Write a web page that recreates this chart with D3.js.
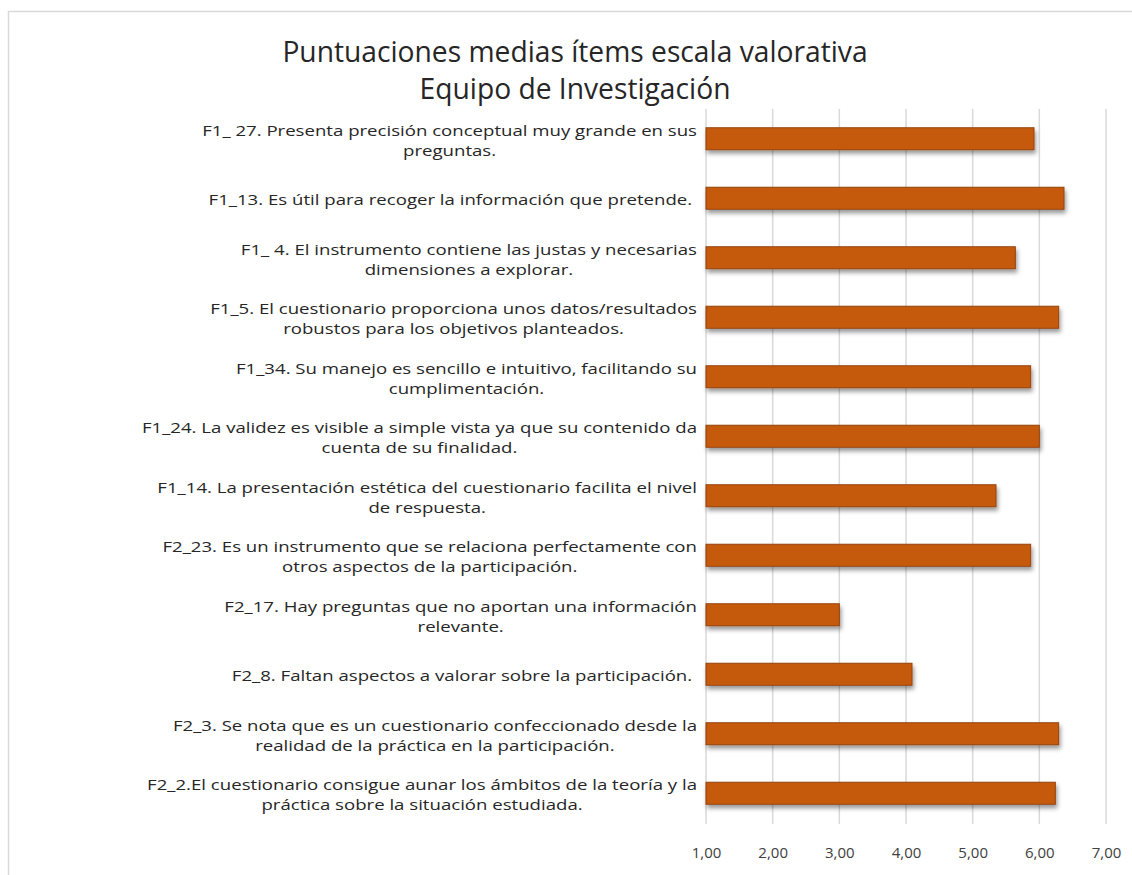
<!DOCTYPE html>
<html lang="es">
<head>
    <meta charset="utf-8" />
    <title>Puntuaciones medias ítems escala valorativa</title>
    <script src="https://d3js.org/d3.v7.min.js"></script>
    <style>
        body { margin: 0; background: #fff; }
        text { font-family: "Open Sans", "Liberation Sans", sans-serif; fill: #262626; }
        .grid line { stroke: #d9d9d9; stroke-width: 1.5px; }
        .xaxis text { fill: #404040; }
    </style>
</head>
<body>
<script>
    // ===== datos =====
    var titleLines = ["Puntuaciones medias ítems escala valorativa", "Equipo de Investigación"];

    // etiquetas de categoría, ya partidas en líneas como en el original
    var itemLabels = [
        ["F1_ 27. Presenta precisión conceptual muy grande en sus", "preguntas."],
        ["F1_13. Es útil para recoger la información que pretende. "],
        ["F1_ 4. El instrumento contiene las justas y necesarias", "dimensiones a explorar."],
        ["F1_5. El cuestionario proporciona unos datos/resultados", "robustos para los objetivos planteados."],
        ["F1_34. Su manejo es sencillo e intuitivo, facilitando su", "cumplimentación."],
        ["F1_24. La validez es visible a simple vista ya que su contenido da", "cuenta de su finalidad."],
        ["F1_14. La presentación estética del cuestionario facilita el nivel", "de respuesta."],
        ["F2_23. Es un instrumento que se relaciona perfectamente con", "otros aspectos de la participación."],
        ["F2_17. Hay preguntas que no aportan una información", "relevante."],
        ["F2_8. Faltan aspectos a valorar sobre la participación. "],
        ["F2_3. Se nota que es un cuestionario confeccionado desde la", "realidad de la práctica en la participación."],
        ["F2_2.El cuestionario consigue aunar los ámbitos de la teoría y la", "práctica sobre la situación estudiada."]
    ];
    var itemValues = [5.92, 6.37, 5.64, 6.29, 5.87, 6.00, 5.35, 5.87, 3.00, 4.09, 6.29, 6.24];
    var xTicks = [1, 2, 3, 4, 5, 6, 7];

    // ===== lienzo =====
    var width = 1132, height = 875;
    var margin = { top: 109, right: 26, bottom: 52, left: 706 };

    var svg = d3.select("body").append("svg")
        .attr("width", width)
        .attr("height", height);

    // sombra de las barras
    var defs = svg.append("defs");
    defs.append("filter")
        .attr("id", "sombra")
        .attr("x", "-5%").attr("y", "-30%")
        .attr("width", "115%").attr("height", "190%")
        .append("feDropShadow")
        .attr("dx", 1.5).attr("dy", 3.5)
        .attr("stdDeviation", 2)
        .attr("flood-color", "#000")
        .attr("flood-opacity", 0.4);

    // borde del gráfico
    svg.append("rect")
        .attr("x", 8.5).attr("y", 11.5)
        .attr("width", width + 20).attr("height", height + 20)
        .attr("fill", "none")
        .attr("stroke", "#d9d9d9")
        .attr("stroke-width", 1.5);

    var x = d3.scaleLinear()
        .domain([1, 7])
        .range([margin.left, width - margin.right]);

    var y = d3.scaleBand()
        .domain(d3.range(itemValues.length))
        .range([margin.top, height - margin.bottom])
        .paddingInner(0.63)
        .paddingOuter(0.315);

    // estira el texto en horizontal (la fuente original es más ancha)
    function stretch(sel, k) {
        sel.each(function () {
            var w = this.getComputedTextLength();
            d3.select(this).attr("textLength", w * k).attr("lengthAdjust", "spacingAndGlyphs");
        });
    }

    // título
    var title = svg.append("g")
        .selectAll("text")
        .data(titleLines)
        .enter().append("text")
        .attr("x", 575)
        .attr("y", function (d, i) { return 62 + i * 37; })
        .attr("text-anchor", "middle")
        .attr("font-size", 30)
        .text(function (d) { return d; });
    stretch(title, 0.94);

    // líneas de división verticales
    svg.append("g")
        .attr("class", "grid")
        .selectAll("line")
        .data(xTicks)
        .enter().append("line")
        .attr("x1", function (d) { return x(d); })
        .attr("x2", function (d) { return x(d); })
        .attr("y1", margin.top)
        .attr("y2", height - margin.bottom + 1);

    // eje x
    var fmt = d3.formatLocale({ decimal: ",", thousands: ".", grouping: [3], currency: ["", "€"] }).format(".2f");
    var xAxis = svg.append("g")
        .attr("class", "xaxis")
        .attr("transform", "translate(0," + (height - margin.bottom) + ")")
        .call(d3.axisBottom(x).tickValues(xTicks).tickFormat(fmt).tickSize(0).tickPadding(24));
    xAxis.select(".domain").remove();
    xAxis.selectAll("text")
        .style("font-family", "'Open Sans', sans-serif")
        .attr("font-size", 15);

    // barras
    svg.append("g")
        .selectAll("rect")
        .data(itemValues)
        .enter().append("rect")
        .attr("x", x(1))
        .attr("y", function (d, i) { return y(i); })
        .attr("width", function (d) { return x(d) - x(1); })
        .attr("height", y.bandwidth())
        .attr("fill", "#c55a11")
        .attr("stroke", "#96420c")
        .attr("stroke-width", 1)
        .attr("filter", "url(#sombra)");

    // etiquetas de categoría
    var labelRight = 697, lineH = 20, k = 1.24;
    var lab = svg.append("g")
        .selectAll("g")
        .data(itemLabels)
        .enter().append("g");

    lab.each(function (lines, i) {
        var g = d3.select(this);
        var cy = y(i) + y.bandwidth() / 2;
        var top = cy - (lines.length - 1) * lineH / 2 + 7;
        var t = g.selectAll("text")
            .data(lines)
            .enter().append("text")
            .attr("y", function (d, j) { return top + j * lineH; })
            .attr("text-anchor", "middle")
            .attr("font-size", 15)
            .style("white-space", "pre")
            .text(function (d) { return d; });
        var maxW = 0;
        t.each(function () { maxW = Math.max(maxW, this.getComputedTextLength()); });
        stretch(t, k);
        t.attr("x", labelRight - maxW * k / 2);
    });
</script>
</body>
</html>
